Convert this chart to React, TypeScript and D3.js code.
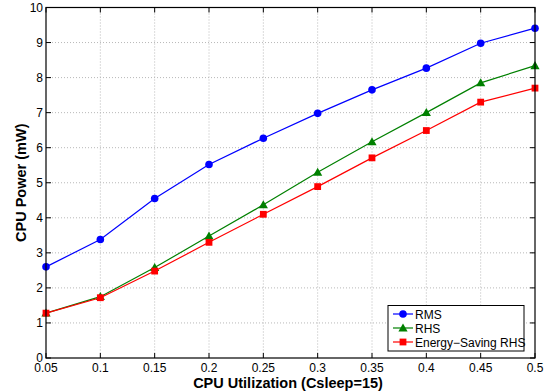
import { useEffect, useRef } from "react";
import * as d3 from "d3";

const utilization = [0.05, 0.1, 0.15, 0.2, 0.25, 0.3, 0.35, 0.4, 0.45, 0.5];
const rmsPower = [2.6, 3.38, 4.55, 5.52, 6.27, 6.98, 7.65, 8.27, 8.98, 9.41];
const rhsPower = [1.28, 1.75, 2.58, 3.48, 4.37, 5.3, 6.17, 7.0, 7.85, 8.34];
const esRhsPower = [1.28, 1.72, 2.48, 3.3, 4.1, 4.89, 5.71, 6.49, 7.3, 7.7];
const xTicks = [0.05, 0.1, 0.15, 0.2, 0.25, 0.3, 0.35, 0.4, 0.45, 0.5];
const yTicks = [0, 1, 2, 3, 4, 5, 6, 7, 8, 9, 10];

type Series = { name: string; values: number[]; color: string; marker: "circle" | "triangle" | "square" };

const series: Series[] = [
  { name: "RMS", values: rmsPower, color: "#0000ff", marker: "circle" },
  { name: "RHS", values: rhsPower, color: "#008000", marker: "triangle" },
  { name: "Energy\u2212Saving RHS", values: esRhsPower, color: "#ff0000", marker: "square" },
];

const font = "'Liberation Sans', Arial, Helvetica, sans-serif";

const drawMarker = (
  g: d3.Selection<SVGGElement, unknown, null, undefined>,
  kind: Series["marker"],
  cx: number,
  cy: number,
  color: string
) => {
  if (kind === "circle") {
    g.append("circle").attr("cx", cx).attr("cy", cy).attr("r", 3.8).attr("fill", color);
  } else if (kind === "triangle") {
    const s = 4.6;
    g.append("path")
      .attr("d", `M${cx},${cy - s} L${cx + s},${cy + s * 0.75} L${cx - s},${cy + s * 0.75} Z`)
      .attr("fill", color);
  } else {
    g.append("rect")
      .attr("x", cx - 3.4)
      .attr("y", cy - 3.4)
      .attr("width", 6.8)
      .attr("height", 6.8)
      .attr("fill", color);
  }
};

const App = () => {
  const svgRef = useRef<SVGSVGElement | null>(null);

  useEffect(() => {
    if (!svgRef.current) return;
    const width = 555;
    const height = 392;
    const left = 46, right = 535, top = 7.5, bottom = 358;

    const svg = d3.select(svgRef.current);
    svg.selectAll("*").remove();
    svg.attr("width", width).attr("height", height);

    svg.append("rect").attr("width", width).attr("height", height).attr("fill", "#fff");

    const x = d3.scaleLinear().domain([0.05, 0.5]).range([left, right]);
    const y = d3.scaleLinear().domain([0, 10]).range([bottom, top]);

    const grid = svg.append("g").attr("stroke", "#b8b8b8").attr("stroke-width", 1).attr("stroke-dasharray", "1,2");
    xTicks.slice(1, -1).forEach((t) => {
      grid.append("line").attr("x1", x(t)).attr("x2", x(t)).attr("y1", top).attr("y2", bottom);
    });
    yTicks.slice(1, -1).forEach((t) => {
      grid.append("line").attr("x1", left).attr("x2", right).attr("y1", y(t)).attr("y2", y(t));
    });

    // inward ticks on all four sides
    const ticks = svg.append("g").attr("stroke", "#000").attr("stroke-width", 1);
    const tl = 5;
    xTicks.forEach((t) => {
      ticks.append("line").attr("x1", x(t)).attr("x2", x(t)).attr("y1", bottom).attr("y2", bottom - tl);
      ticks.append("line").attr("x1", x(t)).attr("x2", x(t)).attr("y1", top).attr("y2", top + tl);
    });
    yTicks.forEach((t) => {
      ticks.append("line").attr("x1", left).attr("x2", left + tl).attr("y1", y(t)).attr("y2", y(t));
      ticks.append("line").attr("x1", right).attr("x2", right - tl).attr("y1", y(t)).attr("y2", y(t));
    });

    const labels = svg.append("g").attr("font-family", font).attr("font-size", 12).attr("fill", "#000");
    xTicks.forEach((t) => {
      labels.append("text").attr("x", x(t)).attr("y", bottom + 14).attr("text-anchor", "middle").text(String(t));
    });
    yTicks.forEach((t) => {
      labels.append("text").attr("x", left - 3).attr("y", y(t) + 4).attr("text-anchor", "end").text(String(t));
    });

    svg.append("text")
      .attr("x", 288)
      .attr("y", 387.5)
      .attr("text-anchor", "middle")
      .attr("font-family", font)
      .attr("font-weight", "bold")
      .attr("font-size", 14.5)
      .text("CPU Utilization (Csleep=15)");

    svg.append("text")
      .attr("transform", `translate(26, ${(top + bottom) / 2}) rotate(-90)`)
      .attr("text-anchor", "middle")
      .attr("font-family", font)
      .attr("font-weight", "bold")
      .attr("font-size", 14.5)
      .text("CPU Power (mW)");

    const line = d3
      .line<number>()
      .x((_, i) => x(utilization[i]))
      .y((d) => y(d));

    const plot = svg.append("g");
    series.forEach((s) => {
      plot.append("path").datum(s.values).attr("fill", "none").attr("stroke", s.color).attr("stroke-width", 1.2).attr("d", line);
      s.values.forEach((v, i) => drawMarker(plot, s.marker, x(utilization[i]), y(v), s.color));
    });

    // axes box
    svg.append("rect")
      .attr("x", left)
      .attr("y", top)
      .attr("width", right - left)
      .attr("height", bottom - top)
      .attr("fill", "none")
      .attr("stroke", "#000")
      .attr("stroke-width", 1.2);

    // legend
    const lx = 388, ly = 305.5, lw = 136, lh = 45.5;
    const legend = svg.append("g");
    legend.append("rect")
      .attr("x", lx)
      .attr("y", ly)
      .attr("width", lw)
      .attr("height", lh)
      .attr("fill", "#fff")
      .attr("stroke", "#000")
      .attr("stroke-width", 1);
    series.forEach((s, i) => {
      const cy = ly + 8.5 + i * 14;
      legend.append("line").attr("x1", lx + 5).attr("x2", lx + 25).attr("y1", cy).attr("y2", cy).attr("stroke", s.color).attr("stroke-width", 1.2);
      drawMarker(legend, s.marker, lx + 15, cy, s.color);
      legend.append("text")
        .attr("x", lx + 27)
        .attr("y", cy + 4.5)
        .attr("font-family", font)
        .attr("font-size", 12)
        .text(s.name);
    });
  }, []);

  return <svg ref={svgRef} style={{ position: "absolute", left: 0, top: 0 }} />;
};

export default App;
